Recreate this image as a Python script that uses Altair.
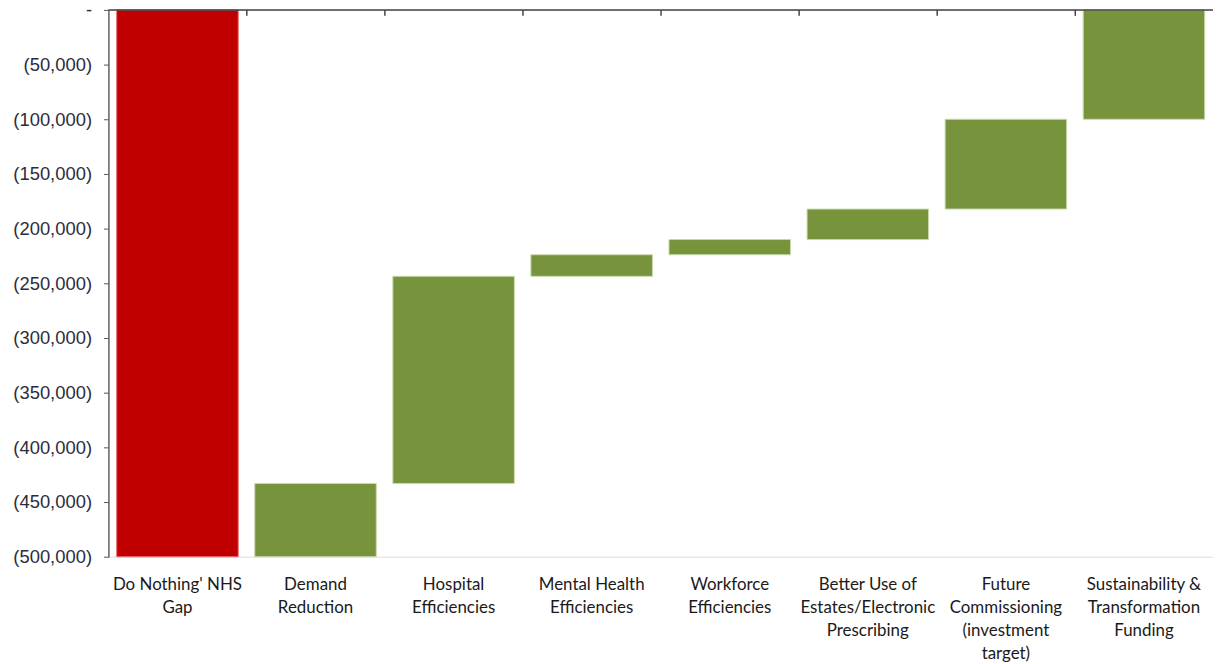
import altair as alt
import pandas as pd

categories = [
    "Do Nothing' NHS\nGap",
    "Demand\nReduction",
    "Hospital\nEfficiencies",
    "Mental Health\nEfficiencies",
    "Workforce\nEfficiencies",
    "Better Use of\nEstates/Electronic\nPrescribing",
    "Future\nCommissioning\n(investment\ntarget)",
    "Sustainability &\nTransformation\nFunding",
]
bar_bottom = [-500000, -500000, -433000, -243600, -223900, -210000, -182100, -100000]
bar_top = [0, -433000, -243600, -223900, -210000, -182100, -100000, 0]
kind = ["Gap", "Saving", "Saving", "Saving", "Saving", "Saving", "Saving", "Saving"]
y_ticks = list(range(-500000, 1, 50000))

df = pd.DataFrame({"cat": categories, "y0": bar_bottom, "y1": bar_top, "kind": kind})
ticks_df = pd.DataFrame({"cat": categories[1:]})

xscale = alt.Scale(domain=categories, paddingInner=0.12, paddingOuter=0.06)
yscale = alt.Scale(domain=[-500000, 0], nice=False, zero=False)

bars = alt.Chart(df).mark_bar(strokeWidth=1).encode(
    x=alt.X("cat:N", scale=xscale, sort=categories,
            axis=alt.Axis(title=None, domain=False, ticks=False, labelAngle=0,
                          labelExpr="split(datum.label, '\\n')",
                          labelFont="Lato", labelFontSize=17, labelColor="#1a1a1a",
                          labelLineHeight=23, labelPadding=20, labelBaseline="top")),
    y=alt.Y("y0:Q", scale=yscale,
            axis=alt.Axis(title=None, values=y_ticks, grid=False,
                          labelExpr="datum.value == 0 ? '-' : '(' + format(-datum.value, ',') + ')'",
                          labelFont="Liberation Sans", labelFontSize=18.5, labelColor="#2c2c3c",
                          tickSize=5, tickColor="#555555", domainColor="#666666",
                          domainWidth=1.5, labelPadding=12)),
    y2="y1:Q",
    color=alt.Color("kind:N", scale=alt.Scale(domain=["Gap", "Saving"], range=["#C00000", "#77933C"]), legend=None),
    stroke=alt.Stroke("kind:N", scale=alt.Scale(domain=["Gap", "Saving"], range=["#e86a6a", "#c9d9ae"]), legend=None),
)

top_line = alt.Chart(pd.DataFrame({"v": [0]})).mark_rule(color="#444444", strokeWidth=1.5).encode(
    y=alt.Y("v:Q", scale=yscale)
)

tick_marks = alt.Chart(ticks_df).mark_rule(color="#444444", strokeWidth=1.5, xOffset=-8).encode(
    x=alt.X("cat:N", scale=xscale, sort=categories, bandPosition=0),
    y=alt.value(0),
    y2=alt.value(6),
)

chart = alt.layer(bars, top_line, tick_marks).properties(
    width=1111, height=550,
    autosize=alt.AutoSizeParams(type="none"),
    padding={"left": 101, "top": 0, "right": 0, "bottom": 106},
).configure_view(stroke=None).configure(background="white")

chart.save("out.html", embed_options={"renderer": "svg", "actions": False})
